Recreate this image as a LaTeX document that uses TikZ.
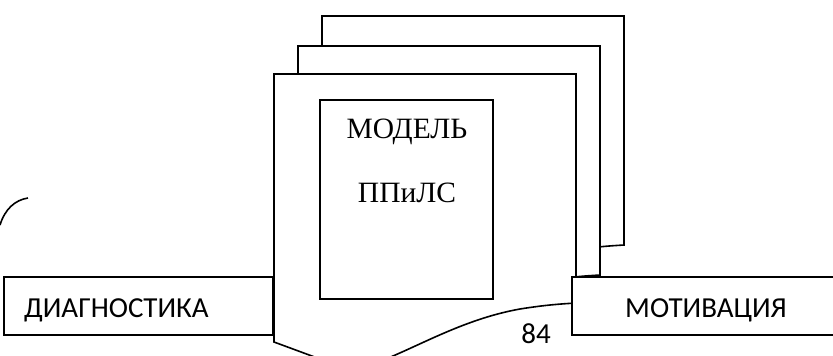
\documentclass[tikz,border=0pt]{standalone}
\usepackage{fontspec}
\newfontfamily\serifru{Liberation Serif}
\newfontfamily\sansru{Carlito}
\begin{document}
\begin{tikzpicture}[x=1pt,y=-1pt,
  ln/.style={line width=1.6pt,line join=miter},
  page/.style={ln,fill=white},
  boxnode/.style={ln,draw,fill=white,inner sep=0pt,outer sep=0pt},
  sanslbl/.style={font=\sansru\fontsize{29}{31}\selectfont,inner sep=0pt},
  seriflbl/.style={font=\serifru\fontsize{29.5}{31}\selectfont,inner sep=0pt}]
\useasboundingbox (0,0) rectangle (833,356);
\clip (0,0) rectangle (833,356);
% document pages (back to front)
\foreach \dx/\dy in {48/-58, 24/-28, 0/0}{
  \draw[page,shift={(\dx,\dy)}] (274,342) -- (274,74) -- (576,74) -- (576,303)
    .. controls (560,304) and (545,305) .. (520,309)
    .. controls (470,318) and (430,340) .. (393,356)
    .. controls (365,368) and (345,368) .. (320,359) -- cycle;
}
% inner model box
\node[boxnode,minimum width=173pt,minimum height=199pt] (model) at (406.5,199.5) {};
\node[seriflbl,anchor=base] (t1) at (407,138) {МОДЕЛЬ};
\node[seriflbl,anchor=base] (t2) at (407,202) {ППиЛС};
% side boxes
\node[boxnode,minimum width=269pt,minimum height=58pt] (diag) at (138.5,306) {};
\node[sanslbl,anchor=base west] (diagt) at (24,317) {ДИАГНОСТИКА};
\node[boxnode,minimum width=270pt,minimum height=58pt] (mot) at (707,306) {};
\node[sanslbl,anchor=base] (mott) at (706,317) {МОТИВАЦИЯ};
\node[sanslbl,anchor=base] (pg) at (536,343) {84};
% arc at left
\draw[ln] (0,225) .. controls (5,209) and (15,200) .. (28,198);
\end{tikzpicture}
\end{document}
